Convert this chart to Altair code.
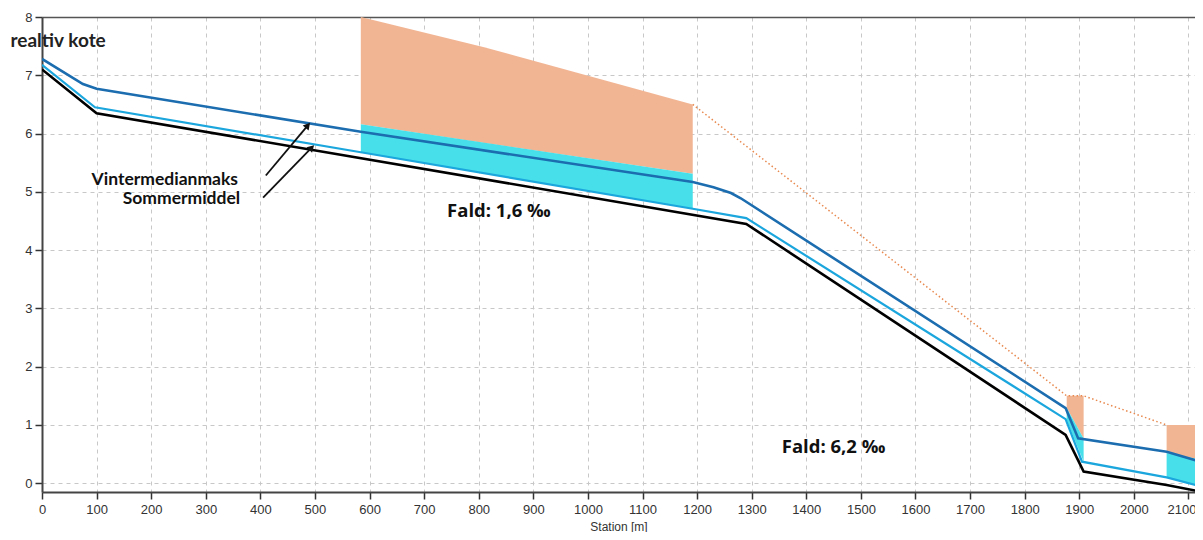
import altair as alt
import pandas as pd

# ---- data ----
x_ticks = list(range(0, 2200, 100))
y_ticks = [0, 1, 2, 3, 4, 5, 6, 7, 8]

bed_x = [0, 100, 1290, 1875, 1908, 2060, 2126]
bed_y = [7.10, 6.35, 4.45, 0.83, 0.20, -0.03, -0.15]

som_x = [0, 97, 584, 1192, 1290, 1875, 1905, 2060, 2126]
som_y = [7.18, 6.45, 5.68, 4.71, 4.55, 1.10, 0.37, 0.10, -0.06]

vin_x = [0, 75, 100, 584, 1192, 1230, 1262, 1280, 1875, 1898, 2060, 2126]
vin_y = [7.28, 6.85, 6.77, 6.03, 5.17, 5.08, 4.98, 4.89, 1.29, 0.77, 0.54, 0.36]

cyan_grp = ["a", "a", "b", "b", "c", "c"]
cyan_x = [584, 1192, 1877, 1908, 2060, 2126]
cyan_lo = [5.68, 4.71, 1.08, 0.37, 0.10, -0.06]
cyan_hi = [6.16, 5.31, 1.29, 0.77, 0.52, 0.40]

orange_grp = ["a", "a", "a", "b", "b", "c", "c"]
orange_x = [584, 810, 1192, 1877, 1908, 2060, 2126]
orange_lo = [6.16, 5.84, 5.31, 1.29, 0.77, 0.52, 0.40]
orange_hi = [8.0, 7.48, 6.5, 1.5, 1.5, 1.0, 1.0]

env_x = [1192, 1877, 1908, 2060]
env_y = [6.5, 1.5, 1.5, 1.0]

ann_text = ["Vintermedianmaks", "Sommermiddel"]
ann_x = [359, 363]
ann_y = [5.20, 4.87]

fald_text = ["Fald: 1,6 \u2030", "Fald: 6,2 \u2030"]
fald_x = [742, 1355]
fald_y = [4.67, 0.62]

arrow_id = ["v", "v", "s", "s"]
arrow_x = [410, 487, 405, 494]
arrow_y = [5.28, 6.14, 4.90, 5.76]
head_x = [487, 494]
head_y = [6.14, 5.76]
head_angle = [41, 45]

# ---- tables ----
bed = pd.DataFrame({"x": bed_x, "y": bed_y})
som = pd.DataFrame({"x": som_x, "y": som_y})
vin = pd.DataFrame({"x": vin_x, "y": vin_y})
cyan = pd.DataFrame({"g": cyan_grp, "x": cyan_x, "lo": cyan_lo, "hi": cyan_hi})
orange = pd.DataFrame({"g": orange_grp, "x": orange_x, "lo": orange_lo, "hi": orange_hi})
env = pd.DataFrame({"x": env_x, "y": env_y})
ann = pd.DataFrame({"t": ann_text, "x": ann_x, "y": ann_y})
fald = pd.DataFrame({"t": fald_text, "x": fald_x, "y": fald_y})
arrows = pd.DataFrame({"id": arrow_id, "x": arrow_x, "y": arrow_y})
heads = pd.DataFrame({"x": head_x, "y": head_y, "a": head_angle})

FONT_T = "Liberation Sans"
FONT_B = "Lato"

xscale = alt.Scale(domain=[0, 2112], nice=False, zero=False)
yscale = alt.Scale(domain=[-0.15, 8], nice=False, zero=False)

xaxis = alt.Axis(values=x_ticks, format="d", title="Station [m]",
                 titleFont=FONT_T, titleFontSize=12, titleFontWeight="normal",
                 titleColor="#333", titleY=34, titleBaseline="middle",
                 labelFont=FONT_T, labelFontSize=13, labelColor="#333",
                 labelPadding=4, labelOverlap=False, labelFlush=False,
                 labelOffset={"expr": "datum.value >= 2100 ? -7 : 0"},
                 tickColor="#333", tickSize=7, tickWidth=1.5,
                 domainColor="#444", domainWidth=2,
                 grid=True, gridColor="#c8c8c8", gridDash=[4, 4], gridWidth=1)
yaxis = alt.Axis(values=y_ticks, format="d", title="realtiv kote",
                 titleFont=FONT_B, titleFontSize=19, titleFontWeight="bold",
                 titleColor="#222", titleAngle=0, titleAlign="left",
                 titleBaseline="middle", titleX=-32, titleY=23,
                 labelFont=FONT_T, labelFontSize=13, labelColor="#333",
                 labelPadding=3,
                 tickColor="#333", tickSize=7, tickWidth=1.5,
                 domainColor="#444", domainWidth=2,
                 grid=True, gridColor="#c8c8c8", gridDash=[4, 4], gridWidth=1)

X = alt.X("x:Q", scale=xscale, axis=xaxis)
Y = alt.Y("y:Q", scale=yscale, axis=yaxis)

orange_area = alt.Chart(orange).mark_area(color="#f2b594", opacity=1, clip=True).encode(
    x=X, y=alt.Y("lo:Q", scale=yscale, axis=yaxis), y2="hi:Q", detail="g:N")
cyan_area = alt.Chart(cyan).mark_area(color="#47e0ea", opacity=1, clip=True).encode(
    x=X, y=alt.Y("lo:Q", scale=yscale, axis=yaxis), y2="hi:Q", detail="g:N")
env_line = alt.Chart(env).mark_line(color="#e8894f", strokeWidth=1.5, strokeDash=[1.5, 2.5], clip=True).encode(x=X, y=Y)
som_line = alt.Chart(som).mark_line(color="#1ba6dd", strokeWidth=2.2, clip=True).encode(x=X, y=Y)
bed_line = alt.Chart(bed).mark_line(color="#000000", strokeWidth=2.6, clip=True).encode(x=X, y=Y)
vin_line = alt.Chart(vin).mark_line(color="#1b6db0", strokeWidth=2.6, clip=True).encode(x=X, y=Y)

arrow_lines = alt.Chart(arrows).mark_line(color="#111", strokeWidth=1.8).encode(x=X, y=Y, detail="id:N")
arrow_heads = alt.Chart(heads).mark_point(shape="triangle-up", filled=True, color="#111", size=60, opacity=1).encode(
    x=X, y=Y, angle=alt.Angle("a:Q", scale=None))

ann_txt = alt.Chart(ann).mark_text(align="right", baseline="middle", font=FONT_B, fontSize=17.5,
                                   fontWeight="bold", color="#111").encode(x=X, y=Y, text="t:N")
fald_txt = alt.Chart(fald).mark_text(align="left", baseline="middle", font="Open Sans", fontSize=18.5,
                                     fontWeight="bold", color="#111").encode(x=X, y=Y, text="t:N")

main = alt.layer(
    orange_area, cyan_area, env_line, som_line, bed_line, vin_line,
    arrow_lines, arrow_heads, ann_txt, fald_txt
)

top_border = alt.Chart(env).mark_point(opacity=0).encode(
    x=alt.X("x:Q", scale=xscale,
            axis=alt.Axis(orient="top", labels=False, ticks=False, grid=False, title="",
                          domainColor="#555", domainWidth=1.5)),
    y=alt.Y("y:Q", scale=yscale, axis=None),
)

chart = alt.layer(main, top_border).resolve_axis(x="independent", y="independent").properties(
    width=1153, height=475,
    autosize=alt.AutoSizeParams(type="none"),
    padding={"left": 34, "top": 9, "right": 0, "bottom": 40},
    background="white",
).configure_view(stroke=None)

chart.save("out.html", embed_options={"renderer": "svg", "actions": False})
